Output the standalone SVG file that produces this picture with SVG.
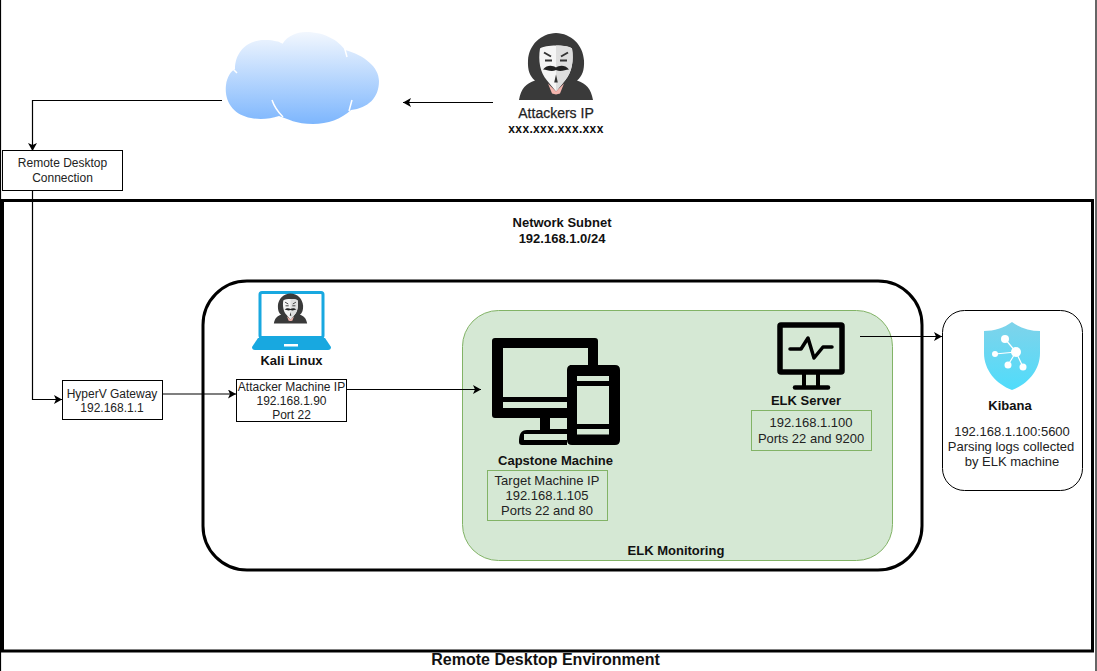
<svg xmlns="http://www.w3.org/2000/svg" width="1097" height="671" viewBox="0 0 1097 671">
<style>
text{font-family:"Liberation Sans",Arial,sans-serif;font-size:12px;fill:#222;text-anchor:middle}
.m{font-size:13px}
.b{font-weight:bold;fill:#111;font-size:13px}
.box{fill:#fff;stroke:#000;stroke-width:1}
.gbox{fill:#d5e8d4;stroke:#82b366;stroke-width:1}
.c{fill:none;stroke:#000;stroke-width:1.2;marker-end:url(#arr)}
.blk{fill:#000}
.hood{fill:#3a3a3a}
</style>
<defs>
<marker id="arr" markerUnits="userSpaceOnUse" markerWidth="10" markerHeight="10" refX="8" refY="4.5" orient="auto"><path d="M0 0L8 4.500L0 9L2 4.500Z" fill="#000"/></marker>
<linearGradient id="cloud" x1="0" y1="0" x2="0" y2="1"><stop offset="0" stop-color="#f2f7fe"/><stop offset="1" stop-color="#7db6fd"/></linearGradient>
<linearGradient id="shield" x1="0" y1="0" x2="0" y2="1"><stop offset="0" stop-color="#7fd3ea"/><stop offset="1" stop-color="#50dcfb"/></linearGradient>
<g id="anon">
<path d="M0 -33.500C-15 -33 -27 -22 -28 -6C-28.500 4 -26 10 -21 14C-30 17 -35 22 -37 33.500L37 33.500C35 22 30 17 21 14C26 10 28.500 4 28 -6C27 -22 15 -33 0 -33.500Z" class="hood"/>
<path d="M-16 -18C-11 -22 11 -22 16 -18C18 -6 16 6 9 14L0 25L-9 14C-16 6 -18 -6 -16 -18Z" fill="#f5f5f5"/>
<path d="M0 -21C6 -21 12 -21 16 -18C18 -6 16 6 9 14L0 25Z" fill="#dedede"/>
<path d="M-8 17L0 25L8 17L4 27L0 28L-4 27Z" fill="#f4b5ad"/>
<path d="M-12 -14L-5 -10M12 -14L5 -10M-11 -6L-4 -6M11 -6L4 -6" stroke="#333" stroke-width="2" fill="none"/>
<path d="M-13 3C-9 -2 -3 -1 0 1C3 -1 9 -2 13 3C9 3 5 6 0 3.500C-5 6 -9 3 -13 3Z" fill="#222"/>
<path d="M0 8L-1.800 16L1.800 16Z" fill="#333"/>
</g>
</defs>
<rect width="1097" height="671" fill="#fff"/>
<rect id="outer-frame" x="0.500" y="-2" width="1095.500" height="680" fill="none" stroke="#000" stroke-width="1.200"/>

<g id="network-subnet">
<rect x="2.500" y="200.500" width="1090" height="450.500" fill="#fff" stroke="#000" stroke-width="3"/>
<text class="b" x="562" y="227">Network Subnet</text>
<text class="b" x="562" y="243">192.168.1.0/24</text>
</g>

<g id="kali-group"><rect x="203" y="281" width="719" height="289" rx="44" fill="#fff" stroke="#000" stroke-width="3"/></g>

<g id="elk-monitoring">
<rect x="462.500" y="310.500" width="430" height="250" rx="36" fill="#d5e8d4" stroke="#82b366"/>
<text class="b" x="676" y="555">ELK Monitoring</text>
</g>

<g id="cloud-node">
<path d="M251 118C234 115 224 102 226 85C227 77 231 71 235 69C235 50 250 39 266 40C274 40 279 42 283 43C288 36 296 32 306 32C325 32 339 41 345 50C364 55 379 67 379 81C379 98 368 108 351 110C341 119 328 124 313 124C296 124 288 119 279 116C270 119 260 120 251 118Z" fill="url(#cloud)"/>
<path d="M272 100C274 106 278 112 283 117M352 100L349 111M343 42L347 57M232 68L237 73M283 43L279 41" stroke="#fff" stroke-width="1.500" fill="none"/>
</g>

<g id="attacker">
<use href="#anon" x="556" y="66.500"/>
<text x="556" y="118" style="font-size:14px;stroke:#222;stroke-width:.25px">Attackers IP</text>
<text class="b" x="556" y="133" style="font-size:12px;letter-spacing:.35px">xxx.xxx.xxx.xxx</text>
</g>

<g id="connectors">
<path class="c" d="M493 102.500H403"/>
<path class="c" d="M222 100.500H32.500V151"/>
<path class="c" d="M32.500 190V399.500H62"/>
<path class="c" d="M162 394H236"/>
<path class="c" d="M347 389.500H481"/>
<path class="c" d="M860 336.500H942"/>
</g>

<g id="remote-desktop">
<rect class="box" x="2.500" y="150.500" width="120" height="40"/>
<text x="62.500" y="167">Remote Desktop</text>
<text x="62.500" y="182">Connection</text>
</g>

<g id="hyperv">
<rect class="box" x="62.500" y="380.500" width="100" height="39"/>
<text x="112" y="398">HyperV Gateway</text>
<text x="112" y="412">192.168.1.1</text>
</g>

<g id="kali">
<rect x="260" y="292.500" width="63" height="45" rx="2" fill="#fff" stroke="#18a8e0" stroke-width="3"/>
<path d="M258 338H325L331 347Q331 350 328 350H255Q252 350 252 347Z" fill="#18a8e0"/>
<rect x="284" y="344" width="14" height="2.500" fill="#fff"/>
<use href="#anon" transform="translate(290.500 308.500) scale(.45)"/>
<text class="b" x="291.500" y="365">Kali Linux</text>
<rect class="box" x="236.500" y="379.500" width="110" height="42"/>
<text x="291.500" y="391">Attacker Machine IP</text>
<text x="291.500" y="405">192.168.1.90</text>
<text x="291.500" y="419">Port 22</text>
</g>

<g id="capstone">
<path class="blk" fill-rule="evenodd" d="M495 338H595Q598 338 598 341V365H570V430H567V445H522Q519 445 519 442C519 434 521 430 527 430H540V418H495Q492 418 492 415V341Q492 338 495 338ZM503 348V397H567V375Q567 365 577 365H588V348ZM503 402V408H567V402ZM550 418V429H567V418ZM524 434V440H567V434Z"/>
<path class="blk" fill-rule="evenodd" d="M572 365H615Q620 365 620 370V440Q620 445 615 445H572Q567 445 567 440V370Q567 365 572 365ZM577 376V381H609V376ZM577 386V424H609V386ZM577 429V434.500H609V429Z"/>
<text class="b" x="555.500" y="465">Capstone Machine</text>
<rect class="gbox" x="487.500" y="470.500" width="120" height="50"/>
<text class="m" x="547" y="485">Target Machine IP</text>
<text class="m" x="547" y="500">192.168.1.105</text>
<text class="m" x="547" y="515">Ports 22 and 80</text>
</g>

<g id="elk-server">
<rect x="780" y="325" width="62" height="47" fill="none" stroke="#000" stroke-width="5.500" rx="1"/>
<path d="M790 349H801L808 338L814 358L823 347H832" fill="none" stroke="#000" stroke-width="3.500" stroke-linecap="round" stroke-linejoin="round"/>
<path d="M804 374V387M818 374V387" stroke="#000" stroke-width="4"/>
<path d="M795 387.500H828" stroke="#000" stroke-width="4.500" stroke-linecap="round"/>
<text class="b" x="806" y="405">ELK Server</text>
<rect class="gbox" x="751.500" y="410.500" width="120" height="40"/>
<text class="m" x="811" y="427">192.168.1.100</text>
<text class="m" x="811" y="443">Ports 22 and 9200</text>
</g>

<g id="kibana">
<rect x="942.500" y="310.500" width="140" height="180" rx="22" fill="#fff" stroke="#000"/>
<path d="M1012 322C1020 328 1030 331 1040 331V353C1040 370 1028 384 1012 390C996 384 984 370 984 353V331C994 331 1004 328 1012 322Z" fill="url(#shield)"/>
<path d="M1005 339L1016 352M995 354L1016 352M1008 365L1016 352M1023 367L1016 352" stroke="#fff" stroke-width="1.200"/>
<g fill="#fff"><circle cx="1005" cy="339" r="4"/><circle cx="995" cy="354" r="3"/><circle cx="1016" cy="352" r="5"/><circle cx="1008" cy="365" r="3.500"/><circle cx="1023" cy="367" r="3.500"/></g>
<text class="b" x="1010" y="410">Kibana</text>
<text class="m" x="1012" y="436">192.168.1.100:5600</text>
<text class="m" x="1011" y="451">Parsing logs collected</text>
<text class="m" x="1012" y="466">by ELK machine</text>
</g>

<text class="b" x="545.500" y="665" style="font-size:16px">Remote Desktop Environment</text>
</svg>
